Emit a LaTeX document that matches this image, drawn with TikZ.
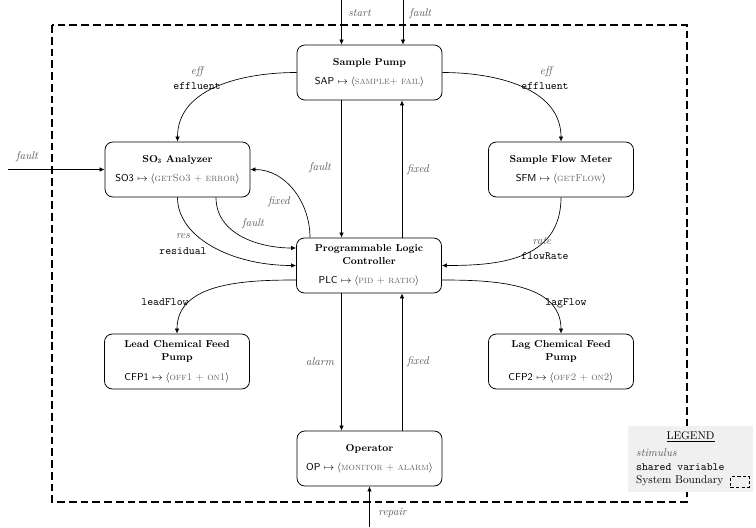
\documentclass[tikz,border=0pt]{standalone}
\usepackage{fontspec}
\usetikzlibrary{arrows.meta}
\definecolor{stimcol}{gray}{0.35}
\definecolor{proccol}{gray}{0.4}
\tikzset{
  comp/.style={draw, line width=0.7pt, rounded corners=7pt, minimum width=129.5pt, minimum height=49.1pt, align=center, inner sep=2pt, font=\small},
  conn/.style={line width=0.6pt, -{Latex[length=4.5pt,width=4pt]}},
  stim/.style={font=\itshape, text=stimcol, inner sep=1pt},
  svar/.style={font=\ttfamily, inner sep=1pt},
  boundary/.style={line width=1.1pt, dash pattern=on 7pt off 3.5pt},
}
\newcommand{\pr}[1]{\textcolor{proccol}{\textsc{#1}}}
\begin{document}
\begin{tikzpicture}[x=0.893pt,y=-0.893pt]
\useasboundingbox (0,0) rectangle (756,527);
% system boundary
\draw[boundary] (52,25) rectangle (687,502);
% components
\node[comp] (sap) at (369.5,72.5) {\textbf{Sample Pump}\\[6pt]\textsf{SAP} $\mapsto\langle$\pr{sample}\textcolor{proccol}{$+$} \pr{fail}$\rangle$};
\node[comp] (so3) at (177.5,169.5) {\textbf{SO$_{\mathbf 3}$ Analyzer}\\[6pt]\textsf{SO3} $\mapsto\langle$\pr{getSo3} \textcolor{proccol}{$+$} \pr{error}$\rangle$};
\node[comp] (sfm) at (561,169.5) {\textbf{Sample Flow Meter}\\[6pt]\textsf{SFM} $\mapsto\langle$\pr{getFlow}$\rangle$};
\node[comp] (plc) at (369,265.5) {\textbf{Programmable Logic}\\[1pt]\textbf{Controller}\\[6pt]\textsf{PLC} $\mapsto\langle$\pr{pid} \textcolor{proccol}{$+$} \pr{ratio}$\rangle$};
\node[comp] (cfp1) at (177,361.5) {\textbf{Lead Chemical Feed}\\[1pt]\textbf{Pump}\\[6pt]\textsf{CFP1} $\mapsto\langle$\pr{off1} \textcolor{proccol}{$+$} \pr{on1}$\rangle$};
\node[comp] (cfp2) at (561,361.5) {\textbf{Lag Chemical Feed}\\[1pt]\textbf{Pump}\\[6pt]\textsf{CFP2} $\mapsto\langle$\pr{off2} \textcolor{proccol}{$+$} \pr{on2}$\rangle$};
\node[comp] (op) at (369.5,458.5) {\textbf{Operator}\\[6pt]\textsf{OP} $\mapsto\langle$\pr{monitor} \textcolor{proccol}{$+$} \pr{alarm}$\rangle$};
% helper coordinates
\coordinate (colL) at (341.5,0);
\coordinate (colR) at (402,0);
\coordinate (colF) at (310,0);
\coordinate (colG) at (216,0);
\coordinate (rowA) at (0,248);
\coordinate (rowB) at (0,280);
\coordinate (startin) at (341.5,0);
\coordinate (faultin) at (403,0);
\coordinate (faultleft) at (8,169.5);
\coordinate (repairin) at (369.5,527);
% external stimuli
\draw[conn] (startin) -- (sap.north -| startin);
\draw[conn] (faultin) -- (sap.north -| faultin);
\draw[conn] (faultleft) -- (so3.west);
\draw[conn] (repairin) -- (op.south);
\node[stim, anchor=west] (lstart) at (347,13) {start};
\node[stim, anchor=west] (lfaulttop) at (408,14) {fault};
\node[stim] (lfaultleft) at (27,157) {fault};
\node[stim, anchor=west] (lrepair) at (377,513) {repair};
% connectors
\draw[conn] (sap.west) to[out=180,in=90] (so3.north);
\draw[conn] (sap.east) to[out=0,in=90] (sfm.north);
\draw[conn] (sap.south -| colL) -- (plc.north -| colL);
\draw[conn] (plc.north -| colR) -- (sap.south -| colR);
\draw[conn] (plc.north -| colF) to[out=90,in=0] (so3.east);
\draw[conn] (so3.south -| colG) to[out=-90,in=180] (plc.west |- rowA);
\draw[conn] (so3.south) to[out=-90,in=180,out looseness=0.75,in looseness=1.2] (plc.west);
\draw[conn] (sfm.south) to[out=-90,in=0,out looseness=1.2,in looseness=1] (plc.east);
\draw[conn] (plc.west |- rowB) to[out=180,in=90] (cfp1.north);
\draw[conn] (plc.east |- rowB) to[out=0,in=90] (cfp2.north);
\draw[conn] (plc.south -| colL) -- (op.north -| colL);
\draw[conn] (op.north -| colR) -- (plc.south -| colR);
% labels
\node[stim] (leff1) at (197,72) {eff};
\node[svar] (leffl1) at (197,86) {effluent};
\node[stim] (leff2) at (546,72) {eff};
\node[svar] (leffl2) at (545,86) {effluent};
\node[stim] (lfault1) at (320,168) {fault};
\node[stim] (lfixed1) at (418,170) {fixed};
\node[stim] (lfixed2) at (279,202) {fixed};
\node[stim] (lfault2) at (253,224) {fault};
\node[stim] (lres) at (183,236) {res};
\node[svar] (lresidual) at (183,251) {residual};
\node[stim] (lrate) at (542,241) {rate};
\node[svar] (lflowrate) at (545,256) {flowRate};
\node[svar] (llead) at (165,302) {leadFlow};
\node[svar] (llag) at (566,303) {lagFlow};
\node[stim] (lalarm) at (320,362) {alarm};
\node[stim] (lfixed3) at (418,362) {fixed};
% legend
\node[fill=gray!12, minimum width=111.6pt, minimum height=58.9pt, inner sep=0pt] (legend) at (690.5,459) {};
\node (legtitle) at (690.5,437) {\underline{LEGEND}};
\node[stim, anchor=west, inner sep=0pt] (legstim) at (636,453) {stimulus};
\node[svar, anchor=west, inner sep=0pt] (legvar) at (636,467) {shared variable};
\node[anchor=west, inner sep=0pt] (legsys) at (636,481) {System Boundary};
\node[draw, line width=0.8pt, dash pattern=on 3pt off 2pt, minimum width=17pt, minimum height=10pt, inner sep=0pt] (legbox) at (740,482) {};
\end{tikzpicture}
\end{document}
